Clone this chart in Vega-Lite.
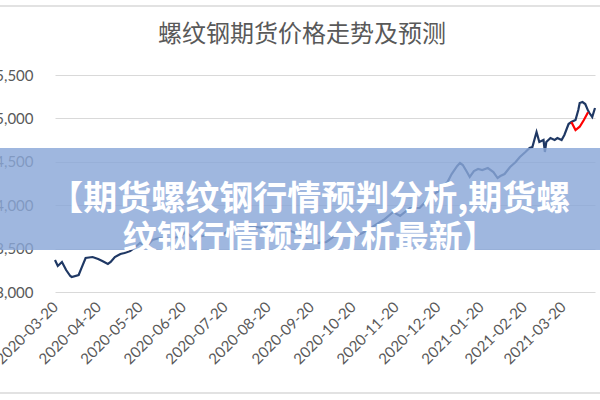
{
  "$schema": "https://vega.github.io/schema/vega-lite/v6.json",
  "description": "Rebar futures price trend and forecast, with a banner caption over the plot.",
  "width": 540,
  "height": 217,
  "autosize": {"type": "none"},
  "padding": {"left": 55, "top": 75, "right": 5, "bottom": 108},
  "background": "white",
  "title": {
    "text": "螺纹钢期货价格走势及预测",
    "font": "Noto Sans CJK SC",
    "fontSize": 24,
    "fontWeight": "normal",
    "color": "#595959",
    "frame": "group",
    "dx": -23,
    "offset": -42
  },
  "config": {
    "view": {"stroke": null},
    "axis": {
      "labelFont": "Lato",
      "labelFontSize": 15,
      "labelColor": "#595959",
      "domain": false,
      "ticks": false
    }
  },
  "datasets": {
    "prices": [
      {"date": "2020-03-20", "price": 3369, "series": "实际"},
      {"date": "2020-03-22", "price": 3300, "series": "实际"},
      {"date": "2020-03-25", "price": 3346, "series": "实际"},
      {"date": "2020-03-28", "price": 3253, "series": "实际"},
      {"date": "2020-03-31", "price": 3184, "series": "实际"},
      {"date": "2020-04-01", "price": 3173, "series": "实际"},
      {"date": "2020-04-06", "price": 3196, "series": "实际"},
      {"date": "2020-04-08", "price": 3276, "series": "实际"},
      {"date": "2020-04-11", "price": 3392, "series": "实际"},
      {"date": "2020-04-16", "price": 3403, "series": "实际"},
      {"date": "2020-04-20", "price": 3380, "series": "实际"},
      {"date": "2020-04-23", "price": 3357, "series": "实际"},
      {"date": "2020-04-27", "price": 3323, "series": "实际"},
      {"date": "2020-04-29", "price": 3346, "series": "实际"},
      {"date": "2020-05-02", "price": 3403, "series": "实际"},
      {"date": "2020-05-06", "price": 3438, "series": "实际"},
      {"date": "2020-05-09", "price": 3449, "series": "实际"},
      {"date": "2020-05-13", "price": 3472, "series": "实际"},
      {"date": "2020-05-16", "price": 3507, "series": "实际"},
      {"date": "2020-05-20", "price": 3564, "series": "实际"},
      {"date": "2020-05-25", "price": 3530, "series": "实际"},
      {"date": "2020-05-29", "price": 3599, "series": "实际"},
      {"date": "2020-06-03", "price": 3622, "series": "实际"},
      {"date": "2020-06-11", "price": 3611, "series": "实际"},
      {"date": "2020-06-18", "price": 3645, "series": "实际"},
      {"date": "2020-06-22", "price": 3691, "series": "实际"},
      {"date": "2020-06-27", "price": 3622, "series": "实际"},
      {"date": "2020-07-04", "price": 3645, "series": "实际"},
      {"date": "2020-07-12", "price": 3680, "series": "实际"},
      {"date": "2020-07-19", "price": 3668, "series": "实际"},
      {"date": "2020-07-26", "price": 3737, "series": "实际"},
      {"date": "2020-08-02", "price": 3726, "series": "实际"},
      {"date": "2020-08-09", "price": 3760, "series": "实际"},
      {"date": "2020-08-16", "price": 3737, "series": "实际"},
      {"date": "2020-08-24", "price": 3783, "series": "实际"},
      {"date": "2020-08-31", "price": 3737, "series": "实际"},
      {"date": "2020-09-07", "price": 3691, "series": "实际"},
      {"date": "2020-09-14", "price": 3645, "series": "实际"},
      {"date": "2020-09-19", "price": 3588, "series": "实际"},
      {"date": "2020-09-24", "price": 3564, "series": "实际"},
      {"date": "2020-10-01", "price": 3576, "series": "实际"},
      {"date": "2020-10-06", "price": 3634, "series": "实际"},
      {"date": "2020-10-13", "price": 3657, "series": "实际"},
      {"date": "2020-10-20", "price": 3634, "series": "实际"},
      {"date": "2020-10-27", "price": 3680, "series": "实际"},
      {"date": "2020-11-03", "price": 3749, "series": "实际"},
      {"date": "2020-11-11", "price": 3829, "series": "实际"},
      {"date": "2020-11-18", "price": 3922, "series": "实际"},
      {"date": "2020-11-23", "price": 3876, "series": "实际"},
      {"date": "2020-11-30", "price": 3968, "series": "实际"},
      {"date": "2020-12-07", "price": 3968, "series": "实际"},
      {"date": "2020-12-11", "price": 4037, "series": "实际"},
      {"date": "2020-12-14", "price": 4094, "series": "实际"},
      {"date": "2020-12-22", "price": 4175, "series": "实际"},
      {"date": "2020-12-27", "price": 4267, "series": "实际"},
      {"date": "2020-12-30", "price": 4359, "series": "实际"},
      {"date": "2021-01-03", "price": 4452, "series": "实际"},
      {"date": "2021-01-05", "price": 4486, "series": "实际"},
      {"date": "2021-01-07", "price": 4463, "series": "实际"},
      {"date": "2021-01-10", "price": 4382, "series": "实际"},
      {"date": "2021-01-12", "price": 4325, "series": "实际"},
      {"date": "2021-01-15", "price": 4394, "series": "实际"},
      {"date": "2021-01-18", "price": 4417, "series": "实际"},
      {"date": "2021-01-21", "price": 4405, "series": "实际"},
      {"date": "2021-01-25", "price": 4428, "series": "实际"},
      {"date": "2021-01-29", "price": 4382, "series": "实际"},
      {"date": "2021-02-01", "price": 4313, "series": "实际"},
      {"date": "2021-02-03", "price": 4336, "series": "实际"},
      {"date": "2021-02-06", "price": 4359, "series": "实际"},
      {"date": "2021-02-10", "price": 4440, "series": "实际"},
      {"date": "2021-02-14", "price": 4498, "series": "实际"},
      {"date": "2021-02-17", "price": 4555, "series": "实际"},
      {"date": "2021-02-21", "price": 4613, "series": "实际"},
      {"date": "2021-02-24", "price": 4659, "series": "实际"},
      {"date": "2021-02-26", "price": 4670, "series": "实际"},
      {"date": "2021-03-01", "price": 4843, "series": "实际"},
      {"date": "2021-03-02", "price": 4786, "series": "实际"},
      {"date": "2021-03-03", "price": 4728, "series": "实际"},
      {"date": "2021-03-06", "price": 4751, "series": "实际"},
      {"date": "2021-03-07", "price": 4613, "series": "实际"},
      {"date": "2021-03-08", "price": 4728, "series": "实际"},
      {"date": "2021-03-11", "price": 4774, "series": "实际"},
      {"date": "2021-03-14", "price": 4751, "series": "实际"},
      {"date": "2021-03-16", "price": 4774, "series": "实际"},
      {"date": "2021-03-19", "price": 4751, "series": "实际"},
      {"date": "2021-03-21", "price": 4809, "series": "实际"},
      {"date": "2021-03-24", "price": 4935, "series": "实际"},
      {"date": "2021-03-26", "price": 4958, "series": "实际"},
      {"date": "2021-03-29", "price": 4981, "series": "实际"},
      {"date": "2021-03-31", "price": 5097, "series": "实际"},
      {"date": "2021-04-01", "price": 5177, "series": "实际"},
      {"date": "2021-04-03", "price": 5189, "series": "实际"},
      {"date": "2021-04-05", "price": 5166, "series": "实际"},
      {"date": "2021-04-07", "price": 5090, "series": "实际"},
      {"date": "2021-04-08", "price": 5062, "series": "实际"},
      {"date": "2021-04-10", "price": 5016, "series": "实际"},
      {"date": "2021-04-12", "price": 5120, "series": "实际"},
      {"date": "2021-03-26", "price": 4958, "series": "预测"},
      {"date": "2021-03-29", "price": 4866, "series": "预测"},
      {"date": "2021-04-01", "price": 4904, "series": "预测"},
      {"date": "2021-04-04", "price": 4981, "series": "预测"},
      {"date": "2021-04-07", "price": 5070, "series": "预测"}
    ],
    "banner": [
      {"caption": ["【期货螺纹钢行情预判分析,期货螺", "纹钢行情预判分析最新】"]}
    ]
  },
  "layer": [
    {
      "data": {"name": "prices"},
      "mark": {"type": "line", "strokeWidth": 2.2, "interpolate": "linear"},
      "encoding": {
        "x": {
          "field": "date",
          "type": "temporal",
          "title": null,
          "scale": {
            "type": "utc",
            "domain": [
              {"year": 2020, "month": 3, "date": 20, "utc": true},
              {"year": 2021, "month": 4, "date": 12, "utc": true}
            ]
          },
          "axis": {
            "values": [
              {"year": 2020, "month": 3, "date": 20, "utc": true},
              {"year": 2020, "month": 4, "date": 20, "utc": true},
              {"year": 2020, "month": 5, "date": 20, "utc": true},
              {"year": 2020, "month": 6, "date": 20, "utc": true},
              {"year": 2020, "month": 7, "date": 20, "utc": true},
              {"year": 2020, "month": 8, "date": 20, "utc": true},
              {"year": 2020, "month": 9, "date": 20, "utc": true},
              {"year": 2020, "month": 10, "date": 20, "utc": true},
              {"year": 2020, "month": 11, "date": 20, "utc": true},
              {"year": 2020, "month": 12, "date": 20, "utc": true},
              {"year": 2021, "month": 1, "date": 20, "utc": true},
              {"year": 2021, "month": 2, "date": 20, "utc": true},
              {"year": 2021, "month": 3, "date": 20, "utc": true}
            ],
            "format": "%Y-%m-%d",
            "labelAngle": -45,
            "labelAlign": "right",
            "labelBaseline": "middle",
            "labelPadding": 12,
            "labelOverlap": false,
            "labelBound": false,
            "labelFlush": false,
            "grid": false
          }
        },
        "y": {
          "field": "price",
          "type": "quantitative",
          "title": null,
          "scale": {"domain": [3000, 5500], "nice": false, "zero": false},
          "axis": {
            "values": [3000, 3500, 4000, 4500, 5000, 5500],
            "format": ",d",
            "labelPadding": 22,
            "grid": true,
            "gridColor": "#D9D9D9",
            "gridWidth": 1
          }
        },
        "color": {
          "field": "series",
          "type": "nominal",
          "scale": {"domain": ["实际", "预测"], "range": ["#1F3864", "#FF0000"]},
          "legend": null
        }
      }
    },
    {
      "data": {"name": "banner"},
      "mark": {"type": "rect", "color": "#8AA7D8", "opacity": 0.82},
      "encoding": {
        "x": {"datum": {"year": 2020, "month": 1, "date": 1, "utc": true}, "type": "temporal"},
        "x2": {"datum": {"year": 2021, "month": 6, "date": 1, "utc": true}},
        "y": {"datum": 4659, "type": "quantitative"},
        "y2": {"datum": 3484}
      }
    },
    {
      "data": {"name": "banner"},
      "mark": {
        "type": "text",
        "font": "Noto Sans CJK SC",
        "fontSize": 34,
        "fontWeight": "bold",
        "color": "white",
        "align": "center",
        "baseline": "middle",
        "lineHeight": 40
      },
      "encoding": {
        "x": {"datum": {"year": 2020, "month": 9, "date": 19, "utc": true}, "type": "temporal"},
        "y": {"datum": 4060, "type": "quantitative"},
        "text": {"field": "caption"}
      }
    },
    {
      "data": {"name": "banner"},
      "mark": {"type": "rule", "color": "#D9D9D9", "strokeWidth": 1.5},
      "encoding": {
        "x": {"datum": {"year": 2020, "month": 1, "date": 1, "utc": true}, "type": "temporal"},
        "x2": {"datum": {"year": 2021, "month": 6, "date": 1, "utc": true}},
        "y": {"datum": 6295, "type": "quantitative"}
      }
    },
    {
      "data": {"name": "banner"},
      "mark": {"type": "rule", "color": "#D9D9D9", "strokeWidth": 1.5},
      "encoding": {
        "x": {"datum": {"year": 2020, "month": 1, "date": 1, "utc": true}, "type": "temporal"},
        "x2": {"datum": {"year": 2021, "month": 6, "date": 1, "utc": true}},
        "y": {"datum": 1836, "type": "quantitative"}
      }
    }
  ]
}
